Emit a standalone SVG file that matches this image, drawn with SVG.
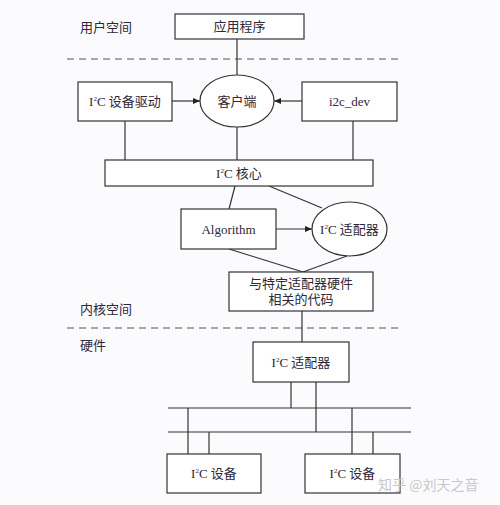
<svg xmlns="http://www.w3.org/2000/svg" width="500" height="505" viewBox="0 0 500 505">
<style>
.bg{fill:#fbfbfd}
.box{fill:#ffffff;stroke:#333;stroke-width:1.2}
.ln{stroke:#333;stroke-width:1.2;fill:none}
.dash{stroke:#555;stroke-width:1.2;stroke-dasharray:7 5;fill:none}
.t{font-family:"Liberation Serif","Noto Sans CJK SC",serif;font-size:13px;fill:#2e2838;text-anchor:middle}
.lab{font-family:"Liberation Serif","Noto Sans CJK SC",serif;font-size:13px;fill:#2e2838}
.sup{font-size:7px}
.wm{font-family:"Noto Sans CJK SC",sans-serif;font-size:14px;fill:#c8c8cc}
</style>
<defs>
<marker id="ah" markerWidth="8" markerHeight="8" refX="7" refY="4" orient="auto" markerUnits="userSpaceOnUse">
<path d="M0,1 L7,4 L0,7 Z" fill="#222"/>
</marker>
</defs>
<rect class="bg" x="0" y="0" width="500" height="505"/>

<g id="labels">
<text class="lab" x="80" y="32">用户空间</text>
<text class="lab" x="80" y="314">内核空间</text>
<text class="lab" x="80" y="350">硬件</text>
<line class="dash" x1="67" y1="59" x2="400" y2="59"/>
<line class="dash" x1="67" y1="328" x2="400" y2="328"/>
</g>

<g id="connectors">
<line class="ln" x1="237" y1="39" x2="237" y2="75"/>
<line class="ln" x1="172" y1="101" x2="200" y2="101" marker-end="url(#ah)"/>
<line class="ln" x1="302" y1="101" x2="274" y2="101" marker-end="url(#ah)"/>
<line class="ln" x1="125" y1="121" x2="125" y2="160"/>
<line class="ln" x1="237" y1="127" x2="237" y2="160"/>
<line class="ln" x1="353" y1="121" x2="353" y2="160"/>
<line class="ln" x1="235" y1="186" x2="229" y2="209"/>
<line class="ln" x1="269" y1="186" x2="322" y2="208"/>
<line class="ln" x1="276" y1="229" x2="312" y2="229" marker-end="url(#ah)"/>
<line class="ln" x1="229" y1="249" x2="303" y2="272"/>
<line class="ln" x1="347" y1="256" x2="303" y2="272"/>
<line class="ln" x1="302" y1="311" x2="302" y2="342"/>
<line class="ln" x1="291" y1="382" x2="291" y2="408"/>
<line class="ln" x1="316" y1="382" x2="316" y2="432"/>
<line class="ln" x1="168" y1="408" x2="411" y2="408"/>
<line class="ln" x1="168" y1="432" x2="411" y2="432"/>
<line class="ln" x1="188" y1="408" x2="188" y2="454"/>
<line class="ln" x1="209" y1="432" x2="209" y2="454"/>
<line class="ln" x1="352" y1="408" x2="352" y2="454"/>
<line class="ln" x1="373" y1="432" x2="373" y2="454"/>
</g>

<g id="app">
<rect class="box" x="175" y="14" width="129" height="25"/>
<text class="t" x="239.5" y="31">应用程序</text>
</g>

<g id="i2c-driver">
<rect class="box" x="78" y="82" width="94" height="39"/>
<text class="t" x="125" y="106">I<tspan class="sup" dy="-5">2</tspan><tspan dy="5">C 设备驱动</tspan></text>
</g>

<g id="client">
<ellipse class="box" cx="237" cy="101" rx="37" ry="26"/>
<text class="t" x="237" y="106">客户端</text>
</g>

<g id="i2c-dev">
<rect class="box" x="302" y="82" width="95" height="39"/>
<text class="t" x="349.5" y="106">i2c_dev</text>
</g>

<g id="i2c-core">
<rect class="box" x="105" y="160" width="268" height="26"/>
<text class="t" x="239" y="178">I<tspan class="sup" dy="-5">2</tspan><tspan dy="5">C 核心</tspan></text>
</g>

<g id="algorithm">
<rect class="box" x="181" y="209" width="95" height="40"/>
<text class="t" x="228.5" y="234">Algorithm</text>
</g>

<g id="i2c-adapter-sw">
<ellipse class="box" cx="349.5" cy="229" rx="37.5" ry="27"/>
<text class="t" x="349.5" y="234">I<tspan class="sup" dy="-5">2</tspan><tspan dy="5">C 适配器</tspan></text>
</g>

<g id="adapter-code">
<rect class="box" x="229" y="272" width="144" height="39"/>
<text class="t" x="301" y="288">与特定适配器硬件</text>
<text class="t" x="301" y="304">相关的代码</text>
</g>

<g id="i2c-adapter-hw">
<rect class="box" x="253" y="342" width="96" height="40"/>
<text class="t" x="301" y="367">I<tspan class="sup" dy="-5">2</tspan><tspan dy="5">C 适配器</tspan></text>
</g>

<g id="device1">
<rect class="box" x="167" y="454" width="94" height="39"/>
<text class="t" x="214" y="478">I<tspan class="sup" dy="-5">2</tspan><tspan dy="5">C 设备</tspan></text>
</g>

<g id="device2">
<rect class="box" x="305" y="454" width="95" height="39"/>
<text class="t" x="352.5" y="478">I<tspan class="sup" dy="-5">2</tspan><tspan dy="5">C 设备</tspan></text>
</g>

<text class="wm" x="378" y="490">知乎 @刘天之音</text>
</svg>
